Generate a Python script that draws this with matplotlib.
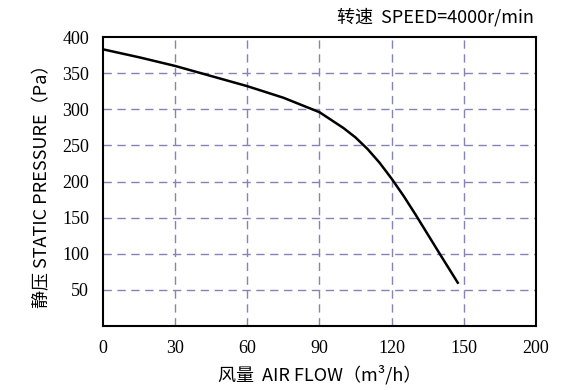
import matplotlib
matplotlib.use('Agg')
import matplotlib.pyplot as plt

# curva de pressao estatica x vazao
flow = [0, 15, 30, 45, 60, 75, 90, 100, 105, 110, 115, 120, 125, 130, 140, 147.5]
pressure = [383, 372, 360, 346, 332, 316, 296, 274, 261, 245, 226, 204, 180, 154, 100, 60]

x_ticks = [0, 30, 60, 90, 120, 150, 180]
x_labels = ['0', '30', '60', '90', '120', '150', '200']
y_ticks = [50, 100, 150, 200, 250, 300, 350, 400]

cjk = ['Noto Sans CJK SC', 'DejaVu Sans']
grid_color = '#8584b4'

fig = plt.figure(figsize=(5.8, 3.9), dpi=100)
ax = fig.add_axes([0.1776, 0.164, 0.7464, 0.741])

for x in x_ticks[1:-1]:
	ax.axvline(x, color=grid_color, linestyle=(0, (6, 4)), linewidth=1, zorder=1)
for y in y_ticks[:-1]:
	ax.axhline(y, color=grid_color, linestyle=(0, (6, 4)), linewidth=1, zorder=1)

ax.plot(flow, pressure, color='black', linewidth=1.8, zorder=3)

ax.set_xlim(0, 180)
ax.set_ylim(0, 400)
ax.set_xticks(x_ticks)
ax.set_xticklabels(x_labels)
ax.set_yticks(y_ticks)
ax.tick_params(length=0, pad=10, labelsize=13)
for lab in ax.get_xticklabels() + ax.get_yticklabels():
	lab.set_family('Liberation Serif')

for s in ax.spines.values():
	s.set_linewidth(1.5)
	s.set_color('black')

ax.set_xlabel('风量  AIR FLOW（m³/h）', family=cjk, fontsize=13, labelpad=6)
ax.set_ylabel('静压 STATIC PRESSURE（Pa）', family=cjk, fontsize=13, labelpad=8)
fig.text(0.92, 0.955, '转速  SPEED=4000r/min', family=cjk, fontsize=13, ha='right', va='center')

fig.savefig('out.png', dpi=100)
